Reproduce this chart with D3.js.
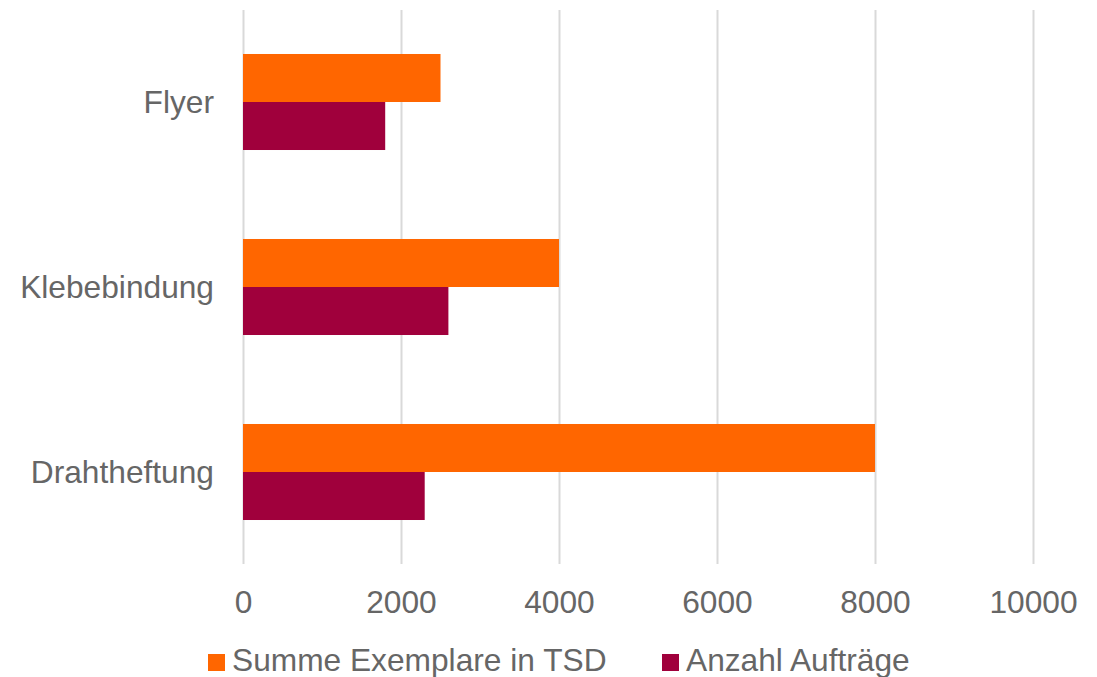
<!DOCTYPE html>
<html>
<head>
<meta charset="utf-8">
<script src="https://cdn.jsdelivr.net/npm/d3@7"></script>
<style>
html, body { margin: 0; padding: 0; background: #fff; }
svg { display: block; font-family: "Liberation Sans", Arial, sans-serif; }
</style>
</head>
<body>
<svg id="chart" width="1097" height="677"></svg>
<script>
const categories = ["Flyer", "Klebebindung", "Drahtheftung"];
const seriesNames = ["Summe Exemplare in TSD", "Anzahl Aufträge"];
const summeExemplare = [2500, 4000, 8000];
const anzahlAuftraege = [1800, 2600, 2300];
const xTicks = [0, 2000, 4000, 6000, 8000, 10000];
const colors = ["#FF6600", "#A0003C"];

const seriesValues = [summeExemplare, anzahlAuftraege];
const svg = d3.select("#chart");
const textColor = "#666666";
const fontSize = 31.7;

const x = d3.scaleLinear().domain([0, 10000]).range([243, 1033]);
const y = d3.scaleBand().domain(categories).range([9.5, 564.5])
  .paddingInner(0.481).paddingOuter(0.2405);
const ySub = d3.scaleBand().domain(seriesNames).range([0, y.bandwidth()]);

// gridlines
svg.append("g").selectAll("line").data(xTicks).join("line")
  .attr("x1", d => Math.round(x(d)) + 0.5).attr("x2", d => Math.round(x(d)) + 0.5)
  .attr("y1", 10).attr("y2", 564)
  .attr("stroke", "#D9D9D9").attr("stroke-width", 2);

// bars
const groups = svg.append("g").selectAll("g").data(categories).join("g")
  .attr("transform", c => `translate(0,${y(c)})`);
groups.selectAll("rect").data((c, i) => seriesNames.map((s, j) => ({ s, v: seriesValues[j][i], j })))
  .join("rect")
  .attr("x", x(0))
  .attr("y", d => ySub(d.s))
  .attr("width", d => x(d.v) - x(0))
  .attr("height", ySub.bandwidth())
  .attr("fill", d => colors[d.j]);

// x axis tick labels
const xAxis = d3.axisBottom(x).tickValues(xTicks).tickSize(0).tickPadding(0).tickFormat(d3.format("d"));
const gx = svg.append("g").attr("transform", "translate(0,590)").call(xAxis);
gx.select(".domain").remove();
gx.selectAll("text").attr("fill", textColor).attr("font-size", fontSize)
  .attr("font-family", "'Liberation Sans', Arial, sans-serif").attr("dy", null).attr("y", 23);

// y axis category labels
const yAxis = d3.axisLeft(y).tickSize(0).tickPadding(0);
const gy = svg.append("g").attr("transform", "translate(214,0)").call(yAxis);
gy.select(".domain").remove();
gy.selectAll("text").attr("fill", textColor).attr("font-size", fontSize)
  .attr("font-family", "'Liberation Sans', Arial, sans-serif").attr("dy", "0.36em");

// legend
const legendX = [208, 662];
const legend = svg.append("g").selectAll("g").data(seriesNames).join("g")
  .attr("transform", (d, i) => `translate(${legendX[i]},0)`);
legend.append("rect").attr("x", 0).attr("y", 654).attr("width", 17).attr("height", 17)
  .attr("fill", (d, i) => colors[i]);
legend.append("text").attr("x", 24).attr("y", 671)
  .attr("fill", textColor).attr("font-size", fontSize).text(d => d);
</script>
</body>
</html>
